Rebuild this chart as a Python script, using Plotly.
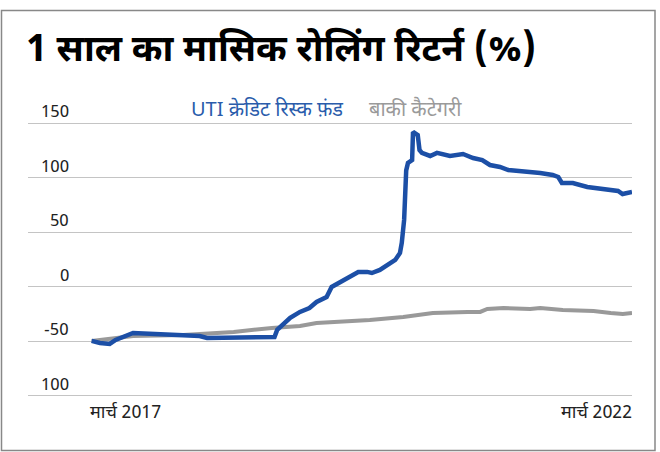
import plotly.graph_objects as go

# ---- data ----
fund_dates = ["2017-03-31", "2017-04-28", "2017-05-31", "2017-06-20", "2017-08-18", "2017-10-15",
              "2017-12-10", "2018-02-03", "2018-03-31", "2018-04-25", "2018-07-10", "2018-08-31",
              "2018-10-20", "2018-12-09", "2018-12-18", "2019-01-03", "2019-01-31", "2019-03-05",
              "2019-04-06", "2019-04-30", "2019-06-03", "2019-06-20", "2019-07-18", "2019-08-20",
              "2019-09-18", "2019-10-18", "2019-11-03", "2019-11-30", "2019-12-27", "2020-01-21",
              "2020-02-06", "2020-02-12", "2020-02-20", "2020-02-27", "2020-03-04", "2020-03-18",
              "2020-03-21", "2020-03-27", "2020-04-06", "2020-04-12", "2020-04-20", "2020-05-18",
              "2020-06-10", "2020-07-24", "2020-09-06", "2020-10-10", "2020-11-10", "2020-12-06",
              "2021-01-09", "2021-02-06", "2021-03-18", "2021-05-06", "2021-05-25", "2021-07-06",
              "2021-07-25", "2021-08-06", "2021-09-12", "2021-10-31", "2021-12-03", "2022-01-06",
              "2022-02-12", "2022-02-27", "2022-03-25", "2022-03-31"]
fund_values = [-49.5, -51.4, -52.3, -48.6, -42.2, -43.1,
               -44.0, -45.0, -45.0, -46.8, -46.8, -45.9,
               -46.8, -45.9, -39.4, -34.9, -28.4, -22.9,
               -19.3, -13.8, -9.2, 0.0, 4.6, 9.2,
               13.8, 13.8, 12.8, 15.6, 20.2, 24.8,
               31.2, 40.4, 61.5, 107.0, 113.8, 116.5,
               142.2, 141.3, 139.4, 125.7, 123.0, 120.2,
               123.0, 120.2, 122.0, 118.3, 116.5, 111.9,
               110.1, 107.3, 106.4, 105.5, 104.6, 102.8,
               100.9, 95.4, 95.4, 91.7, 90.8, 89.0,
               88.1, 85.3, 87.2, 87.2]

cat_dates = ["2017-03-31", "2017-08-18", "2018-02-03", "2018-03-31", "2018-07-24", "2018-11-30",
             "2019-03-05", "2019-04-30", "2019-10-27", "2020-02-17", "2020-02-29", "2020-05-27",
             "2020-09-21", "2020-11-03", "2020-11-27", "2021-01-21", "2021-04-21", "2021-05-25",
             "2021-08-09", "2021-11-21", "2022-01-18", "2022-02-28", "2022-03-31"]
cat_values = [-49.5, -45.0, -44.0, -43.1, -41.3, -37.6,
              -35.8, -33.0, -30.3, -27.5, -27.0, -23.9,
              -22.9, -22.9, -20.2, -19.3, -20.2, -19.3,
              -21.1, -22.0, -23.9, -24.8, -23.9]

y_tickvals = [150, 100, 50, 0, -50, -100]
y_ticktext = ["150", "100", "50", "0", "-50", "100"]

x_label_dates = ["2017-03-31", "2022-03-31"]
x_label_text = ["मार्च 2017", "मार्च 2022"]

title_text = "1 साल का मासिक रोलिंग रिटर्न (%)"
fund_name = "UTI क्रेडिट रिस्क फ़ंड"
cat_name = "बाकी कैटेगरी"

BLUE = "#1c4fa6"
GRAY = "#999999"
FONT = "Noto Sans Devanagari, Noto Sans, sans-serif"

fig = go.Figure()
fig.add_trace(go.Scatter(x=cat_dates, y=cat_values, mode="lines", name=cat_name,
                         line=dict(color=GRAY, width=4)))
fig.add_trace(go.Scatter(x=fund_dates, y=fund_values, mode="lines", name=fund_name,
                         line=dict(color=BLUE, width=4.5)))

L, R, T, B = 28, 28, 120, 53
W, H = 660, 452
pw, ph = W - L - R, H - T - B

def px_x(p):
    return (p - L) / pw

def px_y(p):
    return (H - B - p) / ph

annotations = []
for v, t in zip(y_tickvals, y_ticktext):
    annotations.append(dict(x=px_x(71), xref="paper", xanchor="right", y=v, yref="y",
                            yanchor="bottom", yshift=-3, text=t, showarrow=False,
                            font=dict(family=FONT, size=17, color="#222222")))
annotations.append(dict(x=x_label_dates[0], xref="x", xanchor="left", y=px_y(413), yref="paper",
                        yanchor="middle", xshift=-4, text=x_label_text[0], showarrow=False,
                        font=dict(family=FONT, size=18, color="#222222")))
annotations.append(dict(x=x_label_dates[1], xref="x", xanchor="right", y=px_y(413), yref="paper",
                        yanchor="middle", xshift=2, text=x_label_text[1], showarrow=False,
                        font=dict(family=FONT, size=18, color="#222222")))
annotations.append(dict(x=px_x(189), xref="paper", xanchor="left", y=px_y(110), yref="paper",
                        yanchor="middle", text=fund_name, showarrow=False,
                        font=dict(family=FONT, size=20, color="#2a5cab")))
annotations.append(dict(x=px_x(367), xref="paper", xanchor="left", y=px_y(110), yref="paper",
                        yanchor="middle", text=cat_name, showarrow=False,
                        font=dict(family=FONT, size=20, color="#9a9a9a")))
annotations.append(dict(x=px_x(24), xref="paper", xanchor="left", y=px_y(52), yref="paper",
                        yanchor="middle", text="<b>" + title_text + "</b>", showarrow=False,
                        font=dict(family=FONT, size=37, color="#000000")))

shapes = [dict(type="rect", xref="paper", yref="paper",
               x0=px_x(1.5), x1=px_x(655), y0=px_y(450.5), y1=px_y(10.5),
               line=dict(color="#888888", width=1.5), fillcolor="rgba(0,0,0,0)", layer="below")]

fig.update_layout(
    width=W, height=H,
    margin=dict(l=L, r=R, t=T, b=B, pad=0),
    paper_bgcolor="white", plot_bgcolor="white",
    showlegend=False,
    annotations=annotations,
    shapes=shapes,
    xaxis=dict(type="date", range=["2016-08-28", "2022-03-31"], showgrid=False,
               showticklabels=False, zeroline=False, showline=False, ticks=""),
    yaxis=dict(range=[-102.8, 153.2], tickvals=y_tickvals, showticklabels=False,
               showgrid=True, gridcolor="#c4c4c4", gridwidth=1.3, zeroline=False,
               showline=False, ticks=""),
)

fig.write_html("out.html", config={"displayModeBar": False},
               post_script="document.body.style.margin='0';document.body.style.overflow='hidden';")
